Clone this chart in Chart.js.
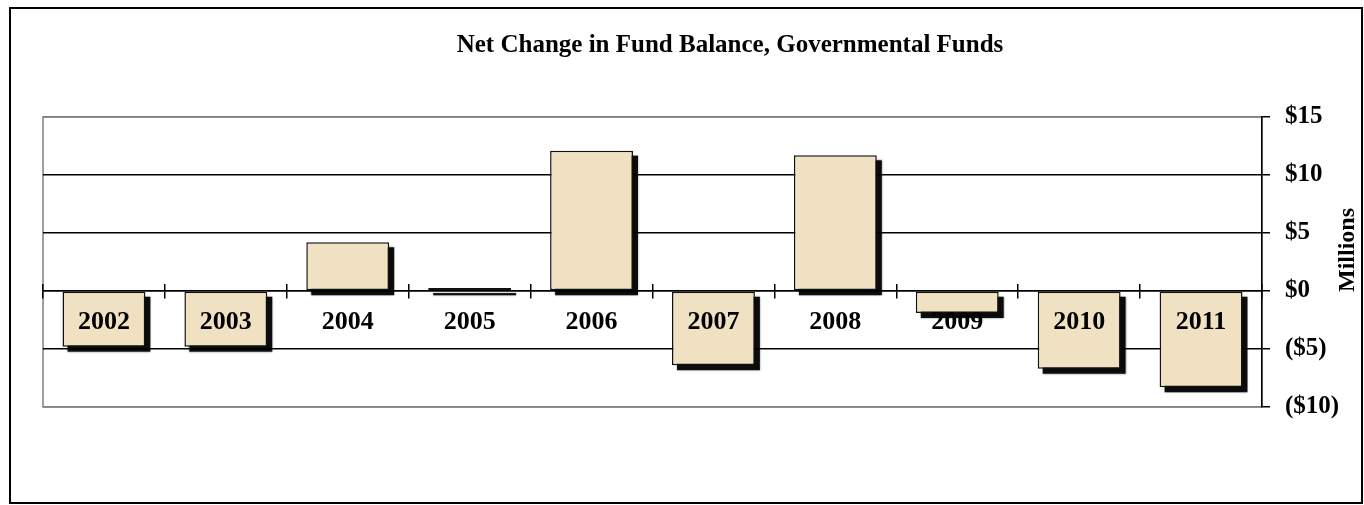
<!DOCTYPE html>
<html>
<head>
<meta charset="utf-8">
<script src="https://cdn.jsdelivr.net/npm/chart.js@4.4.1/dist/chart.umd.min.js"></script>
<style>
  html, body { margin: 0; padding: 0; background: #ffffff; }
  #wrap { width: 1364px; height: 505px; position: relative; }
</style>
</head>
<body>
<div id="wrap"><canvas id="c" width="1364" height="505"></canvas></div>
<script>
// ---- data ----
const years = ['2002', '2003', '2004', '2005', '2006', '2007', '2008', '2009', '2010', '2011'];
const netChange = [-4.8, -4.8, 4.2, 0.25, 12.1, -6.4, 11.7, -1.9, -6.7, -8.3]; // $ millions
const yMin = -10, yMax = 15, yStep = 5;
const chartTitle = 'Net Change in Fund Balance, Governmental Funds';
const yAxisTitle = 'Millions';

const SERIF = '"Liberation Serif", "Times New Roman", Times, serif';

const decor = {
  id: 'decor',
  beforeDraw(chart) {
    const c = chart.ctx, a = chart.chartArea;
    c.save();
    c.fillStyle = '#ffffff';
    c.fillRect(0, 0, chart.width, chart.height);
    c.strokeStyle = '#000000';
    c.lineWidth = 2;
    c.strokeRect(10, 8, 1352, 495);
    c.strokeStyle = '#808080';
    c.lineWidth = 1.5;
    c.strokeRect(a.left, a.top, a.right - a.left, a.bottom - a.top);
    c.restore();
  },
  beforeDatasetsDraw(chart) {
    // drop shadow under each bar, using the bar elements laid out by Chart.js
    const c = chart.ctx;
    const meta = chart.getDatasetMeta(0);
    c.save();
    c.fillStyle = 'rgba(0,0,0,0.92)';
    c.shadowColor = 'rgba(0,0,0,0.5)';
    c.shadowBlur = 2;
    meta.data.forEach((bar) => {
      const p = bar.getProps(['x', 'y', 'base', 'width'], true);
      const left = p.x - p.width / 2;
      const top = Math.min(p.y, p.base);
      const h = Math.abs(p.base - p.y);
      c.fillRect(left + 5, top + 5, p.width, h);
    });
    c.restore();
  },
  afterDraw(chart) {
    const c = chart.ctx, a = chart.chartArea;
    c.save();
    c.fillStyle = '#000000';
    c.textAlign = 'center';
    c.textBaseline = 'middle';
    c.font = 'bold 25px ' + SERIF;
    c.fillText(chartTitle, 730, 46);
    c.font = 'bold 24px ' + SERIF;
    c.translate(1348, (a.top + a.bottom) / 2 - 12);
    c.rotate(-Math.PI / 2);
    c.fillText(yAxisTitle, 0, 0);
    c.restore();
  }
};

const zeroHeight = (s) => { s.height = 0; };

new Chart(document.getElementById('c'), {
  type: 'bar',
  data: {
    labels: years,
    datasets: [{
      data: netChange,
      xAxisID: 'x',
      yAxisID: 'y',
      backgroundColor: '#EFE1C2',
      borderColor: '#111111',
      borderWidth: 1.5,
      borderSkipped: false,
      categoryPercentage: 1.0,
      barPercentage: 0.68
    }]
  },
  options: {
    responsive: false,
    animation: false,
    events: [],
    layout: { padding: { left: 43, right: 0, top: 117, bottom: 98 } },
    plugins: {
      legend: { display: false },
      tooltip: { enabled: false },
      title: { display: false }
    },
    scales: {
      x: {
        type: 'category',
        position: { y: 0 },
        offset: true,
        afterFit: zeroHeight,
        grid: { display: true, drawOnChartArea: false, drawTicks: true, tickLength: 7, offset: true, color: '#000000', lineWidth: 1.5, z: 1 },
        border: { display: true, color: '#000000', width: 1.5, z: 1 },
        ticks: {
          z: 2,
          color: '#000000',
          padding: 9,
          maxRotation: 0,
          autoSkip: false,
          font: { family: SERIF, size: 26, weight: 'bold' }
        }
      },
      x2: {
        type: 'category',
        position: { y: 0 },
        offset: true,
        afterFit: zeroHeight,
        grid: { display: true, drawOnChartArea: false, drawTicks: true, tickLength: -7, offset: true, color: '#000000', lineWidth: 1.5, z: 1 },
        border: { display: false },
        ticks: { display: false }
      },
      y: {
        position: 'right',
        min: yMin,
        max: yMax,
        afterFit: (s) => { s.width = 102; },
        grid: {
          color: (ctx) => (ctx.tick && (ctx.tick.value === yMax || ctx.tick.value === yMin)) ? '#808080' : '#000000',
          tickColor: '#000000',
          lineWidth: 1.5,
          tickLength: 8,
          drawTicks: true
        },
        border: { display: true, color: '#000000', width: 1.5 },
        ticks: {
          stepSize: yStep,
          color: '#000000',
          padding: 15,
          font: { family: SERIF, size: 25, weight: 'bold' },
          callback: (v) => v < 0 ? '($' + Math.abs(v) + ')' : '$' + v
        }
      }
    }
  },
  plugins: [decor]
});
</script>
</body>
</html>
